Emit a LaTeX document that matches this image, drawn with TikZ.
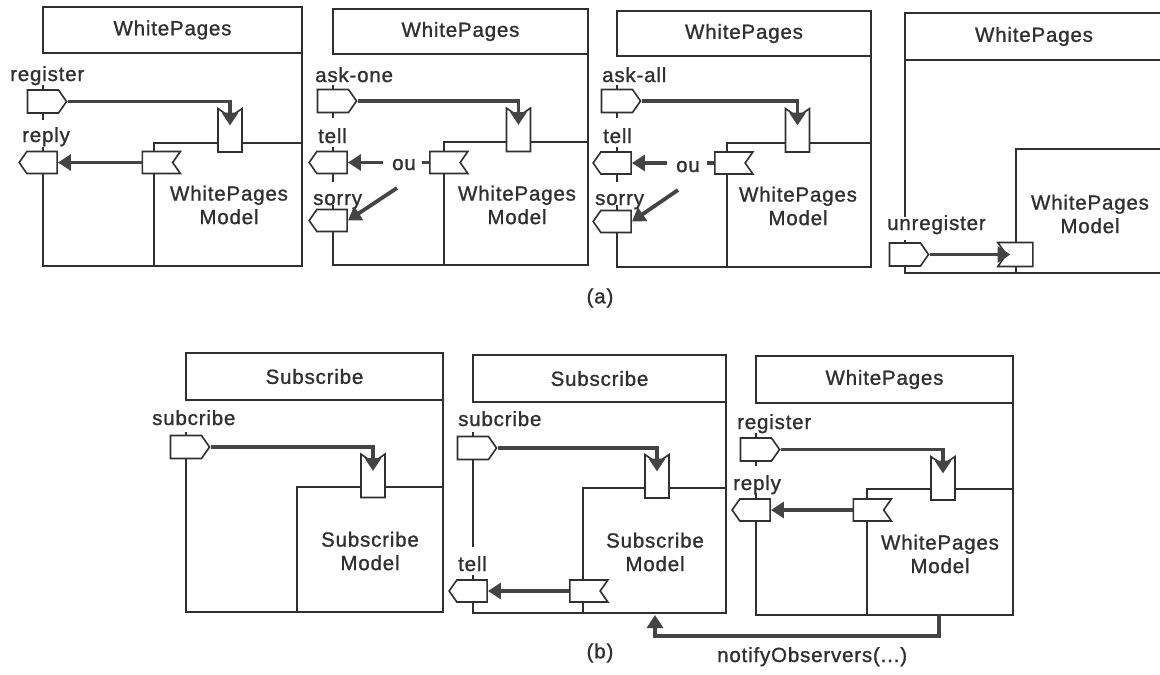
\documentclass[tikz,border=0pt]{standalone}
\usepackage{fontspec}
\setmainfont{Liberation Sans}[LetterSpace=4, FakeBold=1.1]
\usetikzlibrary{shapes.symbols,arrows.meta,backgrounds}
\definecolor{ink}{HTML}{303030}
\definecolor{flowc}{HTML}{444444}
\tikzset{
  box/.style={draw=ink, line width=1.6pt},
  txt/.style={text=ink, font=\fontsize{20.5}{23.5}\selectfont, inner sep=0pt},
  lab/.style={txt, anchor=base west},
  head/.style={box, txt},
  portbase/.style={signal, draw=ink, line width=1.6pt, fill=white, inner sep=0pt,
    signal pointer angle=110},
  inport/.style={portbase, signal to=east, minimum width=39pt, minimum height=23pt},
  outport/.style={portbase, signal to=west, minimum width=38pt, minimum height=22pt},
  modin/.style={portbase, signal to=nowhere, signal from=north,
    minimum width=24pt, minimum height=35pt},
  modinw/.style={portbase, signal to=nowhere, signal from=west,
    minimum width=35pt, minimum height=24pt},
  modout/.style={portbase, signal to=nowhere, signal from=east,
    minimum width=38pt, minimum height=22pt},
  flow/.style={draw=flowc, line width=3.8pt, -{Triangle[length=13pt,width=16pt]}},
  stub/.style={draw=flowc, line width=3.8pt},
}
\begin{document}
\begin{tikzpicture}[x=1pt,y=-1pt]
\useasboundingbox (0,0) rectangle (1160,675);

% ---------------- (a) register ----------------
\node[head, minimum width=259pt, minimum height=46pt] (h1) at (172.5,30) {WhitePages};
\draw[box] (302,53) -- (302,266) -- (43,266) -- (43,147);
\draw[box] (43,85) -- (43,120);
\draw[box] (154,266) -- (154,143) -- (302,143);
\node[txt, align=center] (m1) at (229,205) {WhitePages\\Model};
\node[lab] (l1a) at (10,81) {register};
\node[lab] (l1b) at (22,142) {reply};
\node[inport] (ip1) at (43,101.5) {};
\node[outport] (op1) at (42,162.5) {};
\node[modin] (mp1) at (230,134.5) {};
\node[modout] (mo1) at (157.5,162.5) {};
\draw[flow, shorten >=9pt] (ip1.east) -| (mp1.center);
\draw[flow] (mo1.west) -- (op1.east);

% ---------------- (a) ask-one ----------------
\node[head, minimum width=255pt, minimum height=45pt] (h2) at (460.5,31.5) {WhitePages};
\draw[box] (588,54) -- (588,265) -- (333,265) -- (333,205);
\draw[box] (333,85) -- (333,118);
\draw[box] (333,147) -- (333,182);
\draw[box] (444,265) -- (444,142) -- (588,142);
\node[txt, align=center] (m2) at (517,205) {WhitePages\\Model};
\node[lab] (l2a) at (315,82) {ask-one};
\node[lab] (l2b) at (318,143) {tell};
\node[lab] (l2c) at (313,205) {sorry};
\node[lab] (l2d) at (392,170) {ou};
\node[inport] (ip2) at (333,101) {};
\node[outport] (op2a) at (332,162.5) {};
\node[outport] (op2b) at (332,220.5) {};
\node[modin] (mp2) at (518.5,134) {};
\node[modout] (mo2) at (445,162.5) {};
\coordinate (t2) at (383,162.5);
\coordinate (s2) at (397,188);
\draw[flow, shorten >=9pt] (ip2.east) -| (mp2.center);
\draw[flow] (t2) -- (op2a.east);
\draw[flow] (s2) -- (op2b.east);

% ---------------- (a) ask-all ----------------
\node[head, minimum width=254pt, minimum height=45pt] (h3) at (744,33.5) {WhitePages};
\draw[box] (871,56) -- (871,267) -- (617,267) -- (617,205);
\draw[box] (617,85) -- (617,118);
\draw[box] (617,147) -- (617,182);
\draw[box] (727,267) -- (727,143) -- (871,143);
\node[txt, align=center] (m3) at (798,206) {WhitePages\\Model};
\node[lab] (l3a) at (602,82) {ask-all};
\node[lab] (l3b) at (603,143) {tell};
\node[lab] (l3c) at (595,205) {sorry};
\node[lab] (l3d) at (676,172) {ou};
\node[inport] (ip3) at (617,101) {};
\node[outport] (op3a) at (616,163) {};
\node[outport] (op3b) at (616,221.5) {};
\node[modin] (mp3) at (797.5,134.5) {};
\node[modout] (mo3) at (730,163) {};
\coordinate (t3) at (667,163);
\coordinate (s3) at (678,190);
\draw[flow, shorten >=9pt] (ip3.east) -| (mp3.center);
\draw[flow] (t3) -- (op3a.east);
\draw[flow] (s3) -- (op3b.east);

% short output stubs, tucked behind the white-filled ports
\begin{pgfonlayer}{background}
  \fill[white] (0,0) rectangle (1160,675);
  \draw[stub] (mo2.center) -- ++(-23,0);
  \draw[stub] (mo3.center) -- ++(-23,0);
\end{pgfonlayer}

% ---------------- (a) unregister ----------------
\node[head, minimum width=258pt, minimum height=47pt] (h4) at (1034,36.5) {WhitePages};
\draw[box] (1163,60) -- (1163,273) -- (905,273) -- (905,240);
\draw[box] (905,60) -- (905,217);
\draw[box] (1016,273) -- (1016,149) -- (1163,149);
\node[txt, align=center] (m4) at (1090,214) {WhitePages\\Model};
\node[lab] (l4a) at (887,230) {unregister};
\node[inport] (ip4) at (905,254.5) {};
\node[modinw] (mp4) at (1019.5,254.5) {};
\draw[flow, shorten >=9pt] (ip4.east) -- (mp4.center);

\node[txt] (capa) at (600,298) {(a)};

% ---------------- (b) Subscribe ----------------
\node[head, minimum width=257pt, minimum height=47pt] (h5) at (314.5,376.5) {Subscribe};
\draw[box] (443,400) -- (443,612) -- (186,612) -- (186,432);
\draw[box] (297,612) -- (297,487) -- (443,487);
\node[txt, align=center] (m5) at (370,551) {Subscribe\\Model};
\node[lab] (l5a) at (152,425) {subcribe};
\node[inport] (ip5) at (186,447) {};
\node[modin] (mp5) at (373,480) {};
\draw[flow, shorten >=9pt] (ip5.east) -| (mp5.center);

% ---------------- (b) Subscribe with tell ----------------
\node[head, minimum width=253pt, minimum height=47pt] (h6) at (599.5,378.5) {Subscribe};
\draw[box] (726,402) -- (726,613) -- (473,613) -- (473,575);
\draw[box] (473,432) -- (473,547);
\draw[box] (583,613) -- (583,488) -- (726,488);
\node[txt, align=center] (m6) at (655,552) {Subscribe\\Model};
\node[lab] (l6a) at (458,426) {subcribe};
\node[lab] (l6b) at (458,571) {tell};
\node[inport] (ip6) at (473,448) {};
\node[outport] (op6) at (472,591) {};
\node[modin] (mp6) at (657,480.5) {};
\node[modout] (mo6) at (585,591) {};
\draw[flow, shorten >=9pt] (ip6.east) -| (mp6.center);
\draw[flow] (mo6.west) -- (op6.east);

% ---------------- (b) WhitePages ----------------
\node[head, minimum width=257pt, minimum height=47pt] (h7) at (884.5,379.5) {WhitePages};
\draw[box] (1013,403) -- (1013,615) -- (756,615) -- (756,493);
\draw[box] (756,433) -- (756,466);
\draw[box] (867,615) -- (867,489) -- (1013,489);
\node[txt, align=center] (m7) at (940,554) {WhitePages\\Model};
\node[lab] (l7a) at (737,429) {register};
\node[lab] (l7b) at (733,490) {reply};
\node[inport] (ip7) at (756,449.5) {};
\node[outport] (op7) at (755,510) {};
\node[modin] (mp7) at (943,482.5) {};
\node[modout] (mo7) at (868.5,510) {};
\draw[flow, shorten >=9pt] (ip7.east) -| (mp7.center);
\draw[flow] (mo7.west) -- (op7.east);

% notification from the WhitePages model back to the Subscribe model
\coordinate (nb7) at (939,615);
\coordinate (nb6) at (655,615);
\draw[flow] (nb7) -- ++(0,21) -| (nb6);
\node[lab] (l8) at (717,662) {notifyObservers(...)};

\node[txt] (capb) at (600,653) {(b)};
\end{tikzpicture}
\end{document}
